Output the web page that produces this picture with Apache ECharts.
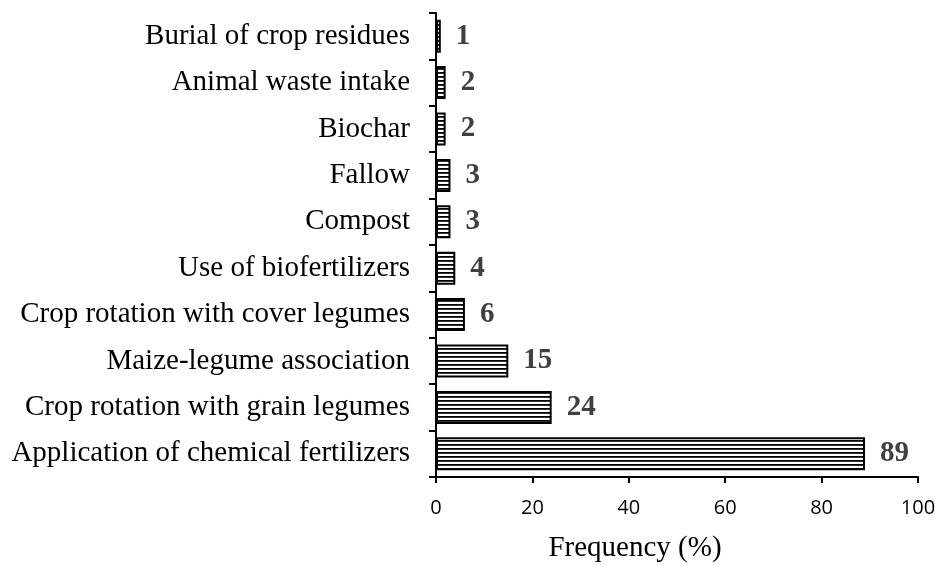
<!DOCTYPE html>
<html>
<head>
<meta charset="utf-8">
<script src="https://cdn.jsdelivr.net/npm/echarts@6/dist/echarts.min.js"></script>
<style>
html,body{margin:0;padding:0;background:#fff;}
#chart{width:941px;height:566px;}
</style>
</head>
<body>
<div id="chart"></div>
<script>
// categories bottom -> top
var categories = [
	'Application of chemical fertilizers',
	'Crop rotation with grain legumes',
	'Maize-legume association',
	'Crop rotation with cover legumes',
	'Use of biofertilizers',
	'Compost',
	'Fallow',
	'Biochar',
	'Animal waste intake',
	'Burial of crop residues'
];
var frequency = [89, 24, 15, 6, 4, 3, 3, 2, 2, 1];
var xTicks = [0, 20, 40, 60, 80, 100];

// horizontal line hatching
function makeHatch() {
	var c = document.createElement('canvas');
	c.width = 4; c.height = 4;
	var ctx = c.getContext('2d');
	ctx.fillStyle = '#fff';
	ctx.fillRect(0, 0, 4, 4);
	ctx.fillStyle = '#000';
	ctx.fillRect(0, 0, 4, 1);
	ctx.fillStyle = '#333';
	ctx.fillRect(0, 1, 4, 1);
	return c;
}

var chart = echarts.init(document.getElementById('chart'));
var serif = '"Liberation Serif", "Times New Roman", serif';

var option = {
	animation: false,
	grid: {left: 436, right: 23, top: 13, bottom: 89, containLabel: false, outerBoundsMode: 'none'},
	xAxis: {
		type: 'value',
		min: xTicks[0],
		max: xTicks[xTicks.length - 1],
		interval: 20,
		splitLine: {show: false},
		axisLine: {show: true, lineStyle: {color: '#000', width: 2}},
		axisTick: {show: true, length: 6, lineStyle: {color: '#000', width: 2}},
		axisLabel: {color: '#000', fontSize: 20, fontFamily: '"Open Sans", sans-serif', margin: 21},
		name: 'Frequency (%)',
		nameLocation: 'middle',
		nameGap: 57,
		nameTextStyle: {color: '#000', fontSize: 29, fontFamily: serif, padding: [0, 84, 0, 0]}
	},
	yAxis: {
		type: 'category',
		data: categories,
		axisLine: {show: true, lineStyle: {color: '#000', width: 2}},
		axisTick: {show: true, length: 7, lineStyle: {color: '#000', width: 2}},
		axisLabel: {color: '#000', fontSize: 29, fontFamily: serif, margin: 26}
	},
	series: [{
		type: 'bar',
		data: frequency,
		barWidth: 33,
		itemStyle: {
			color: {image: makeHatch(), repeat: 'repeat'},
			borderColor: '#000',
			borderWidth: 2
		},
		label: {
			show: true,
			position: 'right',
			distance: 15,
			color: '#404040',
			fontSize: 29,
			fontWeight: 'bold',
			fontFamily: serif
		}
	}]
};
chart.setOption(option);
</script>
</body>
</html>
